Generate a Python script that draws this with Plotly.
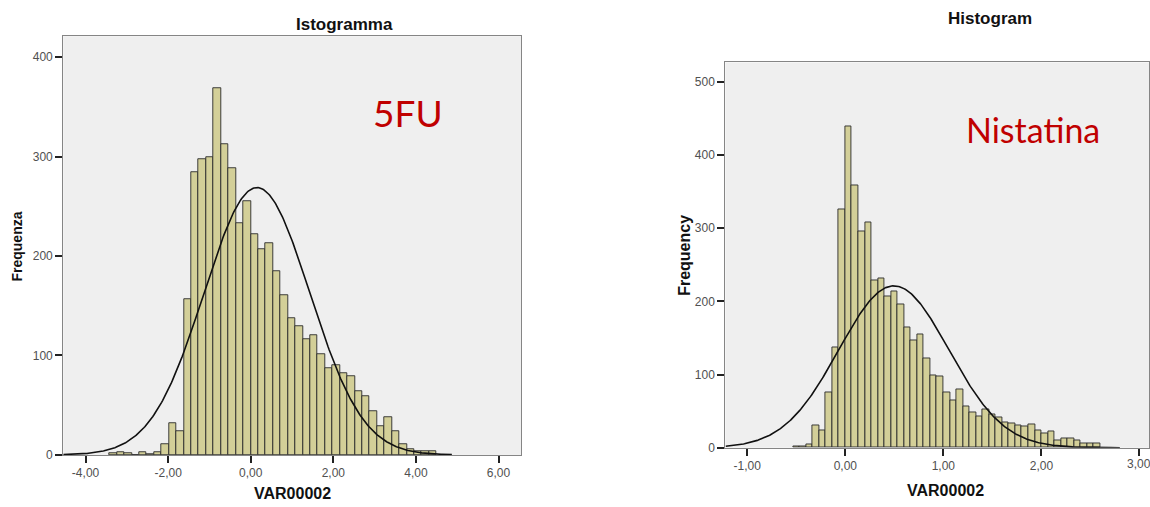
import numpy as np
import plotly.graph_objects as go

# ---------------- data ----------------
# Left panel (5FU): bin width 0.18, first bin starts at -19*0.18
bin_width_5fu = 0.18
first_bin_5fu = -3.42
counts_5fu = [2, 3, 2, 0, 3, 1, 3, 11, 32, 24,
              157, 284, 297, 299, 369, 312, 288, 233, 255,
              222, 207, 213, 185, 161, 137, 129, 116, 120, 101,
              87, 90, 82, 79, 64, 59, 44, 29, 38, 24,
              11, 6, 4, 4, 4]
mean_5fu = 0.15
sd_5fu = 1.28
curve_span_5fu = [-4.54, 4.87]

# Right panel (Nistatina): bin width 1/15, first bin starts at -8/15
bin_width_nys = 1.0 / 15.0
first_bin_nys = -8.0 / 15.0
counts_nys = [2, 2, 4, 30, 23, 76, 137, 326,
              439, 359, 295, 308, 229, 231, 207, 213, 196, 164,
              146, 155, 122, 99, 98, 76, 65, 80, 57, 48,
              43, 52, 45, 41, 35, 33, 31, 29, 32, 23,
              20, 22, 10, 13, 13, 10, 6, 6, 6]
mean_nys = 0.495
sd_nys = 0.56
curve_span_nys = [-1.22, 2.8]

xticks_5fu = [-4, -2, 0, 2, 4, 6]
xticklabels_5fu = ["-4,00", "-2,00", "0,00", "2,00", "4,00", "6,00"]
yticks_5fu = [0, 100, 200, 300, 400]

xticks_nys = [-1, 0, 1, 2, 3]
xticklabels_nys = ["-1,00", "0,00", "1,00", "2,00", "3,00"]
yticks_nys = [0, 100, 200, 300, 400, 500]

# ---------------- helpers ----------------
def centers(first, w, counts):
    return [first + w * (i + 0.5) for i in range(len(counts))]

def normal_curve(span, mean, sd, n, w):
    xs = np.linspace(span[0], span[1], 400)
    ys = n * w / (sd * np.sqrt(2 * np.pi)) * np.exp(-0.5 * ((xs - mean) / sd) ** 2)
    return xs, ys

BAR_FILL = "#D3CF98"
BAR_LINE = "#2a2a2a"
FONT = "Arial, Liberation Sans, sans-serif"
TICK_FONT = dict(family=FONT, size=12, color="#505050")

fig = go.Figure()

fig.add_trace(go.Bar(
    x=centers(first_bin_5fu, bin_width_5fu, counts_5fu), y=counts_5fu,
    width=bin_width_5fu, marker=dict(color=BAR_FILL, line=dict(color=BAR_LINE, width=0.9)),
    xaxis="x", yaxis="y", showlegend=False, hoverinfo="skip"))
cx, cy = normal_curve(curve_span_5fu, mean_5fu, sd_5fu, sum(counts_5fu), bin_width_5fu)
fig.add_trace(go.Scatter(x=cx, y=cy, mode="lines", line=dict(color="#111111", width=1.6),
                         xaxis="x", yaxis="y", showlegend=False, hoverinfo="skip"))

fig.add_trace(go.Bar(
    x=centers(first_bin_nys, bin_width_nys, counts_nys), y=counts_nys,
    width=bin_width_nys, marker=dict(color=BAR_FILL, line=dict(color=BAR_LINE, width=0.9)),
    xaxis="x2", yaxis="y2", showlegend=False, hoverinfo="skip"))
cx2, cy2 = normal_curve(curve_span_nys, mean_nys, sd_nys, sum(counts_nys), bin_width_nys)
fig.add_trace(go.Scatter(x=cx2, y=cy2, mode="lines", line=dict(color="#111111", width=1.6),
                         xaxis="x2", yaxis="y2", showlegend=False, hoverinfo="skip"))

W, H = 1150, 507
def px_x(p): return p / W
def px_y(p): return 1 - p / H

axis_common = dict(showgrid=False, zeroline=False, showline=True, mirror=True,
                   linecolor="#858585", linewidth=1.2, ticks="outside", ticklen=7,
                   tickcolor="#222222", tickwidth=1.5, tickfont=TICK_FONT)

fig.update_layout(
    width=W, height=H, autosize=False,
    margin=dict(l=0, r=0, t=0, b=0),
    paper_bgcolor="white", plot_bgcolor="#EFEFEF",
    bargap=0, barmode="overlay",
    xaxis=dict(domain=[px_x(63.3), px_x(521.7)], range=[-4.54, 6.55], anchor="y",
               tickvals=xticks_5fu, ticktext=xticklabels_5fu, **axis_common),
    yaxis=dict(domain=[px_y(461.3), px_y(36.7)], range=[0, 421], anchor="x",
               tickvals=yticks_5fu, **axis_common),
    xaxis2=dict(domain=[px_x(726), 1.0], range=[-1.223, 3.097], anchor="y2",
                tickvals=xticks_nys, ticktext=xticklabels_nys, **axis_common),
    yaxis2=dict(domain=[px_y(454), px_y(63.3)], range=[0, 526.5], anchor="x2",
                tickvals=yticks_nys, **axis_common),
)

def ann(text, x, y, size, color="#111111", bold=True, angle=0, family=FONT):
    fig.add_annotation(text=f"<b>{text}</b>" if bold else text,
                       x=px_x(x), y=px_y(y), xref="paper", yref="paper",
                       showarrow=False, textangle=angle, xanchor="center", yanchor="middle",
                       font=dict(family=family, size=size, color=color))

ann("Istogramma", 345, 25, 17)
ann("Histogram", 991, 19, 17)
ann("Frequenza", 17, 250, 14, angle=-90)
ann("Frequency", 685, 259, 16, angle=-90)
ann("VAR00002", 293, 500, 16)
ann("VAR00002", 946, 497, 16)
ann("5FU", 408, 114, 37, color="#C00000", bold=False, family="Lato, Open Sans, sans-serif")
ann("Nistatina", 1034, 131, 34, color="#C00000", bold=False, family="Lato, Open Sans, sans-serif")

# last tick label of the right panel, cut by the picture edge as in the reference
fig.add_annotation(text=xticklabels_nys[-1], x=xticks_nys[-1], xref="x2",
                   y=px_y(471), yref="paper", showarrow=False,
                   xanchor="center", yanchor="middle", font=TICK_FONT)

css_js = (
    "var s=document.createElement('style');"
    "s.textContent='html,body{margin:0;padding:0;overflow:hidden;}"
    ".plotly-graph-div{display:block;}';"
    "document.head.appendChild(s);"
)
fig.write_html("out.html", config={"displayModeBar": False, "responsive": False},
               default_width="1150px", default_height="507px", post_script=css_js)
